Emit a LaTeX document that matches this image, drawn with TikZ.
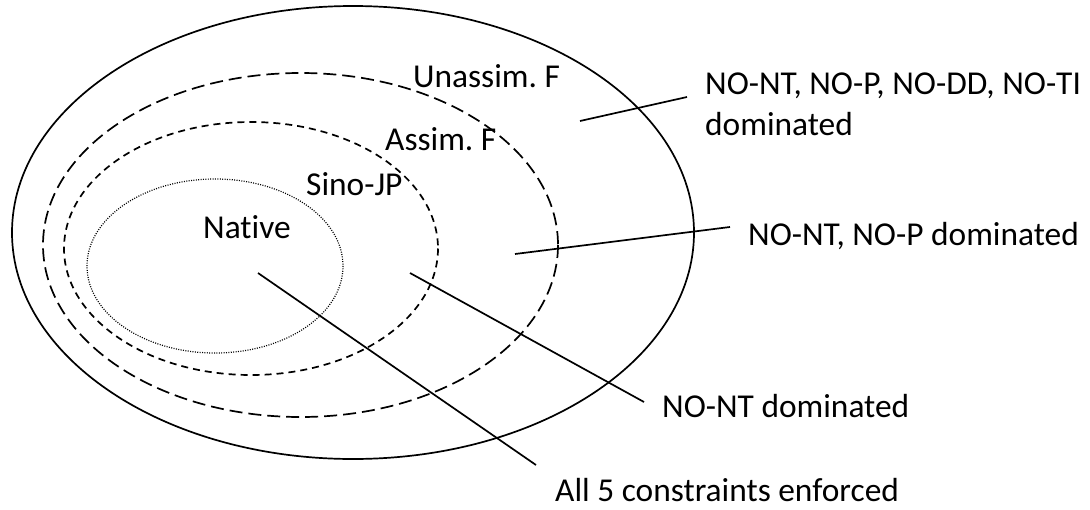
\documentclass[tikz,border=0pt]{standalone}
\usepackage{fontspec}
\setmainfont{Carlito}[Ligatures=NoCommon]
\frenchspacing
\begin{document}
\begin{tikzpicture}[x=1pt,y=-1pt,
  lbl/.style={inner sep=0pt,anchor=base west,font=\fontsize{33.4}{41}\selectfont},
  solidring/.style={line width=1.7pt},
  longdash/.style={line width=1.7pt,dash pattern=on 13pt off 6pt},
  shortdash/.style={line width=1.7pt,dash pattern=on 7pt off 5pt},
  dotring/.style={line width=1.2pt,dash pattern=on 1pt off 1.4pt},
  leader/.style={line width=1.7pt}]
\useasboundingbox (0,0) rectangle (1090,509);
% region boundaries
\draw[solidring] (353,232.5) ellipse [x radius=341, y radius=226.5];
\draw[longdash] (300.5,245) ellipse [x radius=257.5, y radius=172];
\draw[shortdash] (251,248.5) ellipse [x radius=187, y radius=126.5];
\draw[dotring] (215,266) ellipse [x radius=128, y radius=87];
% region names
\node[lbl] (unassim) at (413,87) {Unassim. F};
\node[lbl] (assim) at (385,150) {Assim. F};
\node[lbl] (sino) at (306,195) {Sino-JP};
\node[lbl] (native) at (203,238) {Native};
% constraint labels
\node[lbl] (ta) at (705,94) {NO-NT, NO-P, NO-DD, NO-TI};
\node[lbl] (tb) at (705,135) {dominated};
\node[lbl] (tc) at (748,245) {NO-NT, NO-P dominated};
\node[lbl] (td) at (662,417) {NO-NT dominated};
\node[lbl] (te) at (555,501) {All 5 constraints enforced};
% leader ends
\coordinate (r1) at (580,121); \coordinate (e1) at (687,97);
\coordinate (r2) at (515,254); \coordinate (e2) at (730,227);
\coordinate (r3) at (410,273); \coordinate (e3) at (644,402);
\coordinate (r4) at (258,273); \coordinate (e4) at (536,465);
\draw[leader] (r1) -- (e1);
\draw[leader] (r2) -- (e2);
\draw[leader] (r3) -- (e3);
\draw[leader] (r4) -- (e4);
\end{tikzpicture}
\end{document}
